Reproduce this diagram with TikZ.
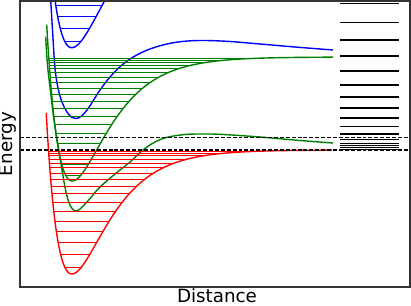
\documentclass[tikz,border=0pt]{standalone}
\usepackage{fontspec}
\setmainfont{DejaVu Sans}
\definecolor{mplgreen}{rgb}{0,0.5,0}
\tikzset{
  curve/.style={line width=1pt},
  level/.style={line width=0.6pt},
  line/.style={line width=1pt},
  limit/.style={line width=1pt,dash pattern=on 2.8pt off 1.4pt},
  declare function={mw(\r,\c,\k)=(1-exp(-\k*(\r-\c)))*(1-exp(-\k*(\r-\c)));}
}
\begin{document}
\begin{tikzpicture}[x=0.025cm,y=-0.025cm]
\useasboundingbox (0,0) rectangle (411,305);
\begin{scope}
\clip (20,1) rectangle (410,287);
% upper blue well
\draw[curve,blue] plot[domain=50:71.7,samples=40] (\x,{-102.3+150*(1-mw(\x,71.7,0.0268))})
  -- plot[domain=71.7:112,samples=40] (\x,{-102.3+150*(1-mw(\x,71.7,0.0249))});
\foreach \v in {0,...,4}{
  \pgfmathsetmacro\q{1-(\v+0.5)/23}
  \pgfmathsetmacro\s{sqrt(1-\q*\q)}
  \draw[level,blue] ({71.7-ln(1+\s)/0.0268},{-102.3+150*\q*\q}) -- ({71.7-ln(1-\s)/0.0249},{-102.3+150*\q*\q});
}
% curves with a barrier
\draw[curve,blue] plot[smooth,tension=0.6] coordinates {(49.6,-20) (50.7,0) (52.8,35) (55,68) (58,88) (62,102) (67,112) (72,117.5) (76,118.5) (81,116.5) (87,110) (93,101) (100,90) (110,77) (122,65) (135,56) (150,49) (167,44) (185,41.2) (205,40.5) (230,41.5) (260,44) (295,47) (333,50)};
\draw[curve,mplgreen] plot[smooth,tension=0.6] coordinates {(45.7,36.7) (47.5,65) (50.7,93) (54,120) (58,145) (62,170) (66,192) (70,205) (75,211) (80,209) (86,203) (93,195) (100,187) (115,174) (130,162) (143,150) (155,142) (167,137.3) (185,134.5) (200,134) (220,134.3) (260,137) (300,140.5) (333,143)};
% upper green well
\draw[curve,mplgreen] plot[domain=46.7:72.3,samples=60] (\x,{57+124*(1-mw(\x,72.3,0.0294))})
  -- plot[domain=72.3:333,samples=120] (\x,{57+124*(1-mw(\x,72.3,0.0285))});
\foreach \v in {0,...,18}{
  \pgfmathsetmacro\q{1-(\v+0.5)/21}
  \pgfmathsetmacro\s{sqrt(1-\q*\q)}
  \draw[level,mplgreen] ({72.3-ln(1+\s)/0.0294},{57+124*\q*\q}) -- ({72.3-ln(1-\s)/0.0285},{57+124*\q*\q});
}
% ground state
\draw[curve,red] plot[domain=46.2:72,samples=60] (\x,{150+124*(1-mw(\x,72,0.0295))})
  -- plot[domain=72:332,samples=120] (\x,{150+124*(1-mw(\x,72,0.0285))});
\foreach \v in {0,...,16}{
  \pgfmathsetmacro\q{1-(\v+0.5)/18.5}
  \pgfmathsetmacro\s{sqrt(1-\q*\q)}
  \draw[level,red] ({72-ln(1+\s)/0.0295},{150+124*\q*\q}) -- ({72-ln(1-\s)/0.0285},{150+124*\q*\q});
}
% limits
\draw[limit] (20,137.3) -- (410,137.3);
\draw[limit] (20,150) -- (410,150);
\end{scope}
% spectrum
\foreach \e in {3.3,22.3,40,56,71,85,97,108,118,126.7,134,139.5,143.3,145.7,147.7,149.3}
  \draw[line] (340,\e) -- (399,\e);
\draw[line width=0.8pt,black!80] (20,1) rectangle (410,287);
\node[rotate=90,font=\fontsize{13}{15}\selectfont] (energy) at (8,144) {Energy};
\node[anchor=base,inner sep=0pt,font=\fontsize{13}{15}\selectfont] (dist) at (217,302.8) {Distance};
\end{tikzpicture}
\end{document}
